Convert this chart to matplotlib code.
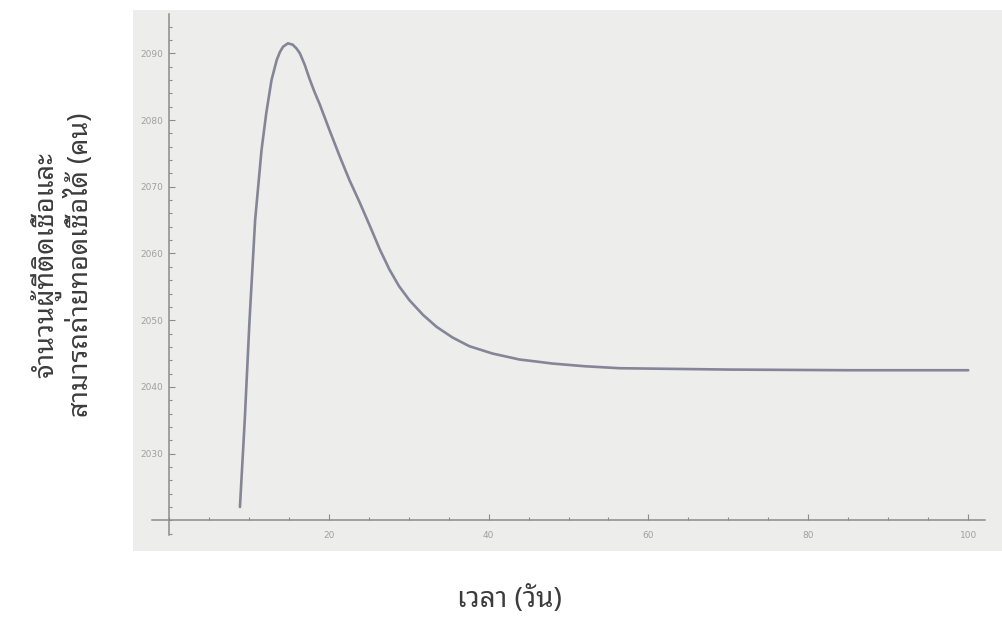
import matplotlib
matplotlib.use("Agg")
import matplotlib.pyplot as plt
from matplotlib.patches import Rectangle
from matplotlib.ticker import MultipleLocator

# values
days = [8.9, 9.2, 9.5, 10.1, 10.8, 11.6, 12.2, 12.85, 13.5, 13.9, 14.3, 14.9,
        15.5, 16.0, 16.4, 17.0, 17.6, 18.2, 18.9, 20.1, 21.4, 22.6, 23.9,
        25.2, 26.4, 27.6, 28.8, 30.1, 31.8, 33.5, 35.5, 37.6, 40.5, 43.9,
        46.0, 48.0, 52.0, 56.4, 70.0, 85.0, 100.0]
infected = [2022.0, 2028.5, 2035.0, 2050.0, 2065.0, 2075.5, 2081.1, 2086.0,
            2089.0, 2090.2, 2091.0, 2091.5, 2091.3, 2090.7, 2090.0, 2088.3,
            2086.2, 2084.3, 2082.3, 2078.5, 2074.5, 2071.0, 2067.6, 2064.0,
            2060.6, 2057.6, 2055.1, 2053.0, 2050.8, 2049.0, 2047.4, 2046.1,
            2045.0, 2044.1, 2043.8, 2043.5, 2043.1, 2042.8, 2042.6, 2042.5,
            2042.5]

x_ticks = [20, 40, 60, 80, 100]
y_ticks = [2030, 2040, 2050, 2060, 2070, 2080, 2090]

xlabel = "เวลา (วัน)"
ylabel = "จำนวนผู้ที่ติดเชื้อและ\nสามารถถ่ายทอดเชื้อได้ (คน)"
thai = ["Noto Sans Thai Looped", "Sarabun", "DejaVu Sans"]

axis_col = "#8c8c8c"
line_col = "#858598"

fig = plt.figure(figsize=(10.03, 6.25), dpi=100, facecolor="white")

# scanned page background behind the plot
fig.patches.append(Rectangle((133 / 1003, 1 - 551 / 625), 870 / 1003, 541 / 625,
                             transform=fig.transFigure, facecolor="#ededeb",
                             edgecolor="none", zorder=-1))

ax = fig.add_axes([152 / 1003, 1 - 535 / 625, 833 / 1003, 521 / 625])
ax.set_zorder(2)
ax.set_facecolor("none")
ax.plot(days, infected, color=line_col, lw=1.9, solid_capstyle="round",
        solid_joinstyle="round")

ax.set_xlim(-2.1, 102.1)
ax.set_ylim(2017.8, 2095.9)

for s in ["top", "right"]:
    ax.spines[s].set_visible(False)
ax.spines["left"].set_position(("data", 0))
ax.spines["bottom"].set_position(("data", 2020))
for s in ["left", "bottom"]:
    ax.spines[s].set_color(axis_col)
    ax.spines[s].set_linewidth(1.1)

ax.set_xticks(x_ticks)
ax.set_yticks(y_ticks)
ax.xaxis.set_minor_locator(MultipleLocator(5))
ax.yaxis.set_minor_locator(MultipleLocator(2))
ax.tick_params(which="both", direction="in", color=axis_col, width=0.8,
               labelsize=6.5, labelcolor="#a0a0a0")
ax.tick_params(which="major", length=4)
ax.tick_params(which="minor", length=2)
ax.tick_params(axis="x", pad=8)
ax.tick_params(axis="y", pad=4)

fig.text(0.508, 0.04, xlabel, ha="center", va="center", fontsize=20,
         family=thai, color="#3c3c3c")
fig.text(0.062, 0.576, ylabel, ha="center", va="center", rotation=90,
         fontsize=19.5, family=thai, color="#3c3c3c", multialignment="center",
         linespacing=1.2)

fig.savefig("out.png", dpi=100, facecolor="white")
